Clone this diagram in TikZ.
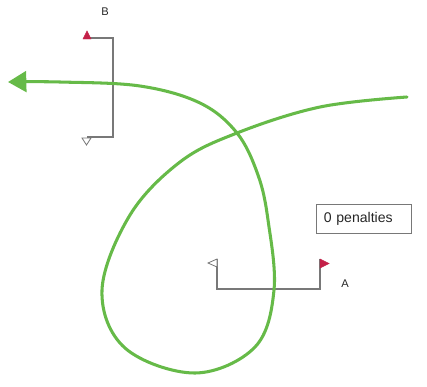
\documentclass[tikz,border=0pt]{standalone}
\usepackage{fontspec}
\setmainfont{Liberation Sans}
\usetikzlibrary{arrows.meta}
\definecolor{pathgreen}{RGB}{102,186,72}
\definecolor{gatered}{RGB}{196,32,72}
\definecolor{poleGrey}{RGB}{120,120,120}
\tikzset{
    pole/.style={draw=poleGrey, line width=1pt},
    redflag/.style={fill=gatered, draw=gatered, line width=0.4pt},
    whiteflag/.style={fill=white, draw=poleGrey, line width=0.7pt},
    gatelabel/.style={font=\fontsize{9.5}{10}\selectfont, text=black!85},
}
\begin{document}
\begin{tikzpicture}[x=0.03cm, y=-0.03cm]
    \useasboundingbox (0,0) rectangle (427,386);
    \coordinate (B1) at (87,38);
    \coordinate (B2) at (113,38);
    \coordinate (B3) at (113,137);
    \coordinate (B4) at (87,137);
    \draw[pole] (B1) -- (B2) -- (B3) -- (B4);
    \fill[redflag] (83,39) -- (91,39) -- (87,31) -- cycle;
    \draw[whiteflag] (82,138) -- (91,138) -- (86.5,145) -- cycle;
    \node[gatelabel] (labB) at (105,12) {B};
    \coordinate (A1) at (217,259);
    \coordinate (A2) at (217,289);
    \coordinate (A3) at (320,289);
    \coordinate (A4) at (320,259);
    \draw[pole] (A1) -- (A2) -- (A3) -- (A4);
    \draw[whiteflag] (217,259) -- (217,267) -- (208,263) -- cycle;
    \fill[redflag] (320,259) -- (320,268) -- (329,263.5) -- cycle;
    \node[gatelabel] (labA) at (345,284) {A};
    \node[draw=poleGrey, line width=0.7pt, minimum width=95*0.03cm, minimum height=29*0.03cm,
          anchor=north west, inner xsep=5pt, text width=80*0.03cm,
          font=\fontsize{12}{13}\selectfont, text=black!85] (pen) at (316,204) {0 penalties};
    \draw[pathgreen, line width=2.6pt, line cap=round, -{Triangle[length=0.55cm, width=0.62cm]}]
        plot[smooth, tension=0.6] coordinates {(407,97) (320,107) (237,133) (180,162) (130,215)
        (102,290) (125,348) (195,373) (255,347) (274,290) (268,220) (258,175) (237,133)
        (200,103) (140,86) (60,82) (8,82)};
\end{tikzpicture}
\end{document}
